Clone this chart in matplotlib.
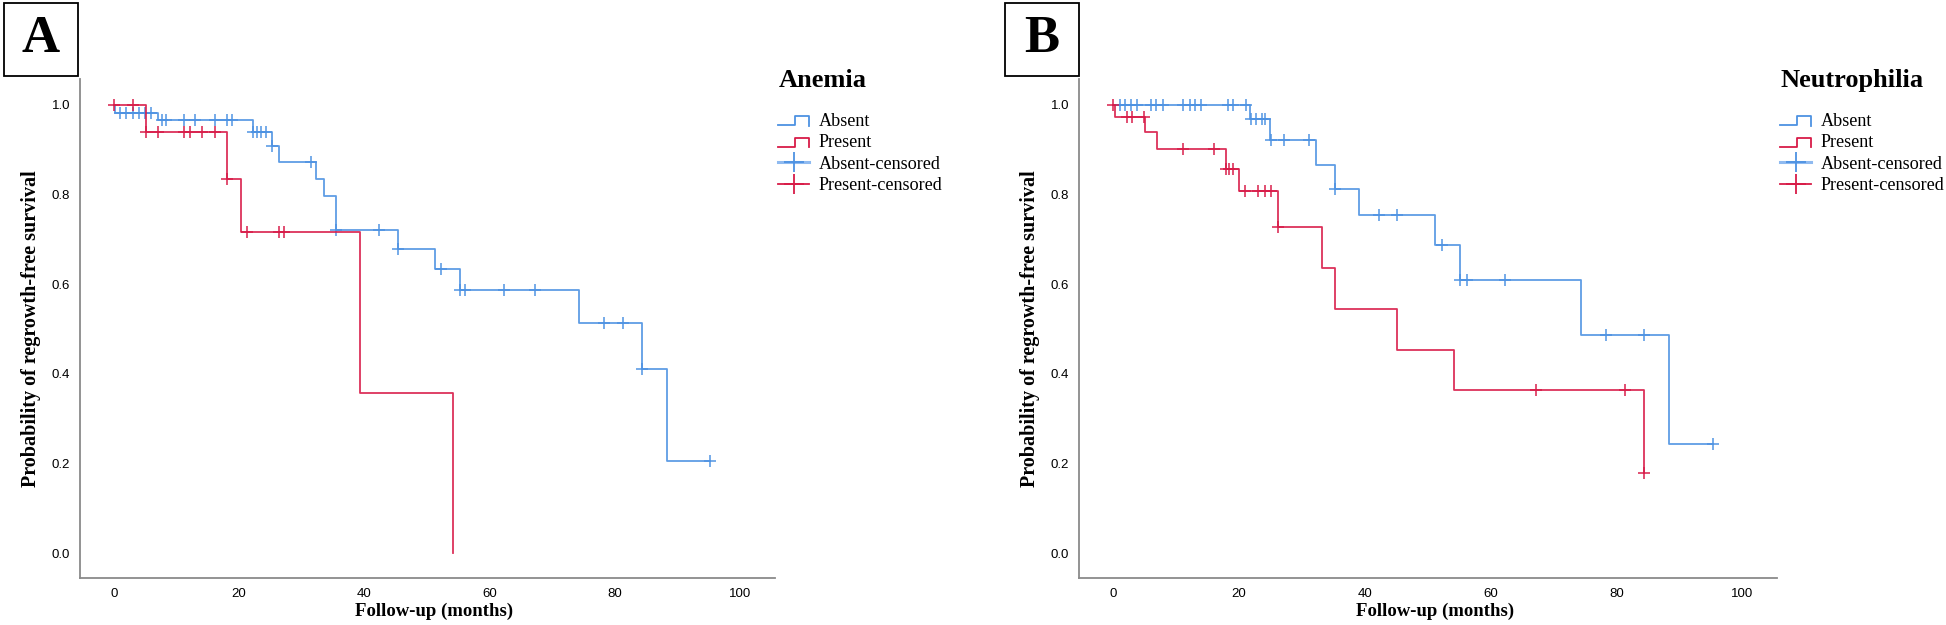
import numpy as np
import matplotlib
matplotlib.use("Agg")
from matplotlib import pyplot as plt
from matplotlib.lines import Line2D
from matplotlib.patches import Rectangle
from matplotlib.legend_handler import HandlerBase

BLUE = "#4d92e2"
RED = "#d81b48"

# panel A - anemia
a_abs_events = [0.2, 7.0, 22.2, 25.2, 26.3, 32.3, 33.5, 35.4, 45.3, 51.2, 55.2, 74.3, 84.3, 88.3]
a_abs_surv = [0.982, 0.966, 0.94, 0.908, 0.873, 0.835, 0.797, 0.72, 0.678, 0.633, 0.586, 0.513, 0.41, 0.205]
a_abs_cens = [1.0, 2.0, 3.0, 4.0, 5.0, 6.0, 7.7, 8.3, 11.2, 13.0, 16.1, 18.0, 18.9, 22.2, 22.9, 23.5,
              24.2, 25.2, 31.4, 35.4, 42.3, 45.3, 52.2, 55.2, 56.1, 62.2, 67.2, 78.2, 81.3, 84.3, 95.2]
a_abs_end = 95.2

a_pre_events = [5.1, 18.0, 20.3, 39.3, 54.1]
a_pre_surv = [0.94, 0.835, 0.717, 0.358, 0.0]
a_pre_cens = [0.0, 3.1, 5.1, 7.0, 11.2, 12.1, 14.1, 16.1, 18.0, 21.3, 26.3, 27.1]
a_pre_end = 54.1

# panel B - neutrophilia
b_abs_events = [21.8, 24.9, 32.2, 35.2, 39.1, 51.2, 55.2, 74.3, 88.3]
b_abs_surv = [0.967, 0.92, 0.866, 0.812, 0.753, 0.686, 0.608, 0.486, 0.243]
b_abs_cens = [1.1, 1.9, 2.8, 3.8, 6.1, 6.9, 7.9, 11.2, 12.2, 13.1, 14.0, 18.3, 19.0, 21.2, 22.0, 22.8,
              23.6, 24.2, 25.1, 27.2, 31.1, 35.2, 42.2, 45.2, 52.2, 55.2, 56.2, 62.3, 78.3, 84.3, 95.3]
b_abs_end = 95.3

b_pre_events = [0.3, 5.1, 7.0, 18.0, 20.1, 26.2, 33.2, 35.2, 45.2, 54.2, 84.3]
b_pre_surv = [0.973, 0.939, 0.9, 0.857, 0.807, 0.727, 0.635, 0.545, 0.454, 0.363, 0.18]
b_pre_cens = [0.0, 2.2, 3.0, 5.0, 11.1, 16.1, 18.0, 18.5, 19.0, 21.0, 23.1, 24.1, 25.1, 26.2, 67.2, 81.3, 84.3]
b_pre_end = 84.3

x_ticks = [0, 20, 40, 60, 80, 100]
y_ticks = [0.0, 0.2, 0.4, 0.6, 0.8, 1.0]
legend_labels = ["Absent", "Present", "Absent-censored", "Present-censored"]


def surv_at(t, events, surv):
    s = 1.0
    for e, v in zip(events, surv):
        if e <= t:
            s = v
    return s


def km(ax, events, surv, cens, end, color):
    xs = [0.0] + list(events) + [end]
    ys = [1.0] + list(surv) + [surv[-1]]
    ax.step(xs, ys, where="post", color=color, lw=1.3, alpha=0.9)
    cy = [surv_at(t, events, surv) for t in cens]
    ax.plot(cens, cy, ls="none", marker="+", ms=8.5, mew=1.2, color=color, alpha=0.9)


class StepHandler(HandlerBase):
    def create_artists(self, legend, orig_handle, xdescent, ydescent, width, height, fontsize, trans):
        w, h = width, height
        xs = np.array([0, 0.52 * w, 0.52 * w, w, w]) - xdescent
        ys = np.array([0.05 * h, 0.05 * h, 0.75 * h, 0.75 * h, 0.0]) - ydescent
        ln = Line2D(xs, ys, color=orig_handle.get_color(), lw=1.3, transform=trans)
        return [ln]


def setup(ax, title):
    ax.set_xlim(-5.4, 105.5)
    ax.set_ylim(-0.055, 1.057)
    ax.set_xticks(x_ticks)
    ax.set_yticks(y_ticks)
    ax.set_yticklabels([f"{v:.1f}" for v in y_ticks])
    ax.tick_params(length=0, pad=7, labelsize=9.5)
    for lab in ax.get_xticklabels() + ax.get_yticklabels():
        lab.set_fontfamily("Liberation Sans")
    for s in ["top", "right"]:
        ax.spines[s].set_visible(False)
    for s in ["left", "bottom"]:
        ax.spines[s].set_color("#8a8a8a")
        ax.spines[s].set_linewidth(1.3)
    ax.set_xlabel("Follow-up (months)", family="Liberation Serif", weight="bold", fontsize=13.5)
    ax.set_ylabel("Probability of regrowth-free survival", family="Liberation Serif", weight="bold", fontsize=14.5)
    ax.xaxis.set_label_coords(0.51, -0.05)
    ax.yaxis.set_label_coords(-0.056, 0.5)

    handles = [Line2D([], [], color=BLUE), Line2D([], [], color=RED),
               Line2D([], [], color="#8fbaf0", lw=2.2, marker="+", ms=14, mew=1.3, mec=BLUE),
               Line2D([], [], color=RED, lw=1.3, marker="+", ms=14, mew=1.3)]
    leg = ax.legend(handles, legend_labels, loc="upper left", bbox_to_anchor=(1.005, 1.02),
                    frameon=False, title=title, alignment="left",
                    prop={"family": "Liberation Serif", "size": 13.1},
                    title_fontproperties={"family": "Liberation Serif", "weight": "bold", "size": 19},
                    handlelength=1.7, handletextpad=0.5, labelspacing=0.24, borderaxespad=0,
                    borderpad=0, numpoints=1,
                    handler_map={handles[0]: StepHandler(), handles[1]: StepHandler()})
    leg._legend_box.sep = 15


fig = plt.figure(figsize=(19.46, 6.25), dpi=100)
W, H = 1946, 625

axA = fig.add_axes([80 / W, 47 / H, 695 / W, 499 / H])
km(axA, a_abs_events, a_abs_surv, a_abs_cens, a_abs_end, BLUE)
km(axA, a_pre_events, a_pre_surv, a_pre_cens, a_pre_end, RED)
setup(axA, "Anemia")

axB = fig.add_axes([1079 / W, 47 / H, 698 / W, 499 / H])
km(axB, b_abs_events, b_abs_surv, b_abs_cens, b_abs_end, BLUE)
km(axB, b_pre_events, b_pre_surv, b_pre_cens, b_pre_end, RED)
setup(axB, "Neutrophilia")

# panel letters in boxes
for letter, x0 in [("A", 4), ("B", 1005)]:
    fig.add_artist(Rectangle((x0 / W, (H - 76) / H), 74 / W, 73 / H, transform=fig.transFigure,
                             fill=False, ec="black", lw=1.3))
    fig.text((x0 + 37) / W, (H - 39) / H, letter, ha="center", va="center",
             family="Liberation Serif", weight="bold", fontsize=38)

fig.savefig("out.png", dpi=100, facecolor="white")
